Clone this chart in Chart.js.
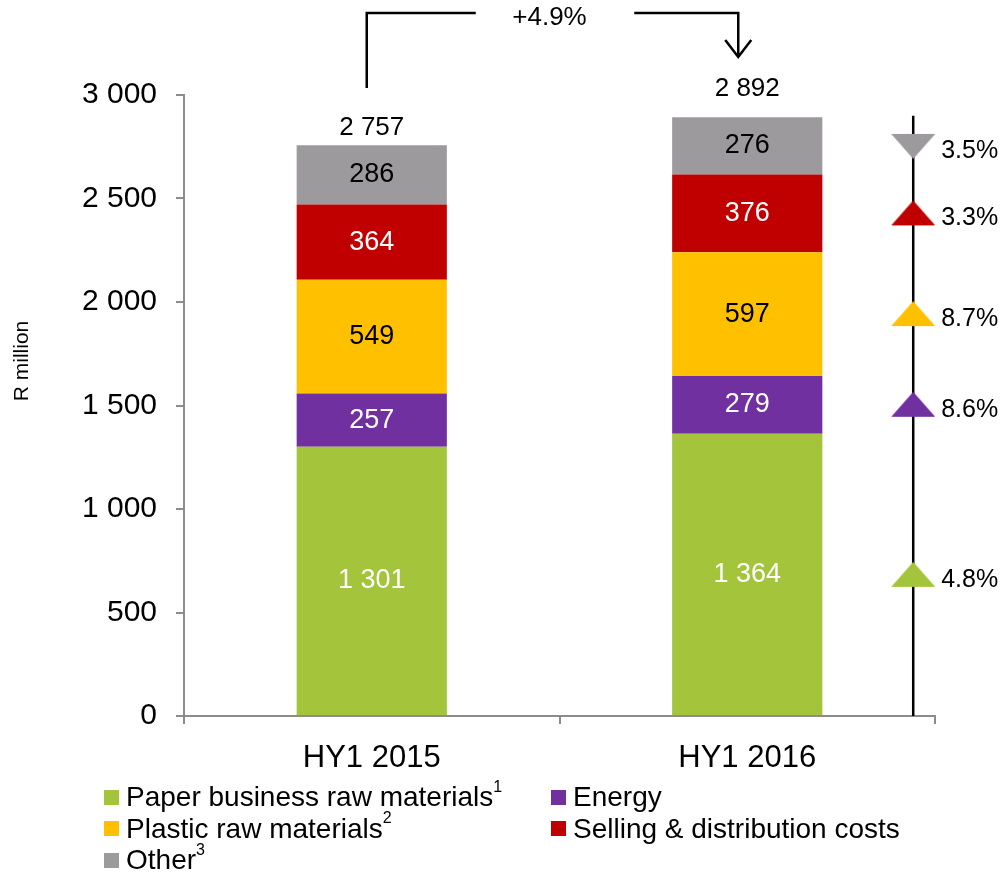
<!DOCTYPE html>
<html>
<head>
<meta charset="utf-8">
<title>Cost breakdown HY1 2015 vs HY1 2016</title>
<script src="https://cdn.jsdelivr.net/npm/chart.js"></script>
<style>
  body { margin: 0; background: #fff; }
  #wrap { position: relative; width: 1002px; height: 872px; }
  #legend { font-family: 'Liberation Sans', Arial, sans-serif; font-size: 28px; color: #000; }
  .item { position: absolute; display: flex; align-items: center; height: 32px; white-space: nowrap; }
  .box { width: 15px; height: 15px; margin-right: 7px; }
  .item sup { font-size: 16px; line-height: 0; position: relative; top: -4px; }
</style>
</head>
<body>
<div id="wrap">
  <canvas id="costChart" width="1002" height="872"></canvas>
  <div id="legend"></div>
</div>
<script>
// values (R million)
var categories = ['HY1 2015', 'HY1 2016'];
var seriesNames = ['Paper business raw materials', 'Energy', 'Plastic raw materials', 'Selling & distribution costs', 'Other'];
var footnotes = ['1', '', '2', '', '3'];
var paperRaw = [1301, 1364];
var energy = [257, 279];
var plasticRaw = [549, 597];
var selling = [364, 376];
var other = [286, 276];
var totals = [2757, 2892];
var changes = ['4.8%', '8.6%', '8.7%', '3.3%', '3.5%'];
var changeUp = [true, true, true, true, false];
var growth = '+4.9%';
var yMax = 3000;
var yStep = 500;

var colors = ['#A3C43B', '#7030A0', '#FFC000', '#C00000', '#9C9A9C'];
var labelInk = ['#fff', '#fff', '#000', '#fff', '#000'];
var font = "'Liberation Sans', Arial, sans-serif";

var series = [paperRaw, energy, plasticRaw, selling, other];

// markers sit in the middle of each HY1 2016 segment
var markerY = [];
var run = 0;
series.forEach(function (s) {
  markerY.push(run + s[1] / 2);
  run += s[1];
});
var markerLane = 0.971;   // position of the change lane across the plot
var laneTop = 2900;

function fmt(n) {
  return String(n).replace(/\B(?=(\d{3})+(?!\d))/g, ' ');
}

function triangle(color, up) {
  var c = document.createElement('canvas');
  c.width = 46;
  c.height = 28;
  var g = c.getContext('2d');
  g.fillStyle = color;
  g.beginPath();
  if (up) {
    g.moveTo(23, 1); g.lineTo(45, 26); g.lineTo(1, 26);
  } else {
    g.moveTo(1, 2); g.lineTo(45, 2); g.lineTo(23, 27);
  }
  g.closePath();
  g.fill();
  return c;
}

var datasets = series.map(function (s, i) {
  return {
    label: seriesNames[i],
    data: s,
    backgroundColor: colors[i],
    stack: 'cost',
    grouped: false,
    barPercentage: 0.4,
    categoryPercentage: 1,
    order: 5
  };
});

datasets.push({
  type: 'line',
  label: 'lane',
  data: [{ x: markerLane, y: 0 }, { x: markerLane, y: laneTop }],
  xAxisID: 'xm',
  yAxisID: 'ym',
  borderColor: '#000',
  borderWidth: 2.5,
  pointRadius: 0,
  order: 2
});

var markerIndex = datasets.length;
datasets.push({
  type: 'scatter',
  label: 'change',
  data: markerY.map(function (y) { return { x: markerLane, y: y }; }),
  xAxisID: 'xm',
  yAxisID: 'ym',
  pointStyle: colors.map(function (c, i) { return triangle(c, changeUp[i]); }),
  pointRadius: 12,
  order: 1
});

var labelPlugin = {
  id: 'slideLabels',
  afterDatasetsDraw: function (chart) {
    var ctx = chart.ctx;
    ctx.save();
    ctx.textAlign = 'center';
    ctx.textBaseline = 'middle';

    // values inside the segments
    ctx.font = '27px ' + font;
    series.forEach(function (s, i) {
      chart.getDatasetMeta(i).data.forEach(function (bar, j) {
        ctx.fillStyle = labelInk[i];
        ctx.fillText(fmt(s[j]), bar.x, (bar.y + bar.base) / 2);
      });
    });

    // totals over the bars
    var topBars = chart.getDatasetMeta(series.length - 1).data;
    var lift = [17, 29];
    ctx.font = '26px ' + font;
    ctx.fillStyle = '#000';
    topBars.forEach(function (bar, j) {
      ctx.fillText(fmt(totals[j]), bar.x, bar.y - lift[j]);
    });

    // % change beside the triangles
    ctx.textAlign = 'left';
    ctx.font = '25px ' + font;
    chart.getDatasetMeta(markerIndex).data.forEach(function (pt, k) {
      ctx.fillText(changes[k], pt.x + 28, pt.y + 5);
    });

    // growth bracket between the two totals
    var b0 = topBars[0], b1 = topBars[1];
    var top = chart.chartArea.top;
    var ly = top - 82;
    ctx.strokeStyle = '#000';
    ctx.lineWidth = 2.5;
    ctx.beginPath();
    ctx.moveTo(b0.x - 5, top - 7);
    ctx.lineTo(b0.x - 5, ly);
    ctx.lineTo(b0.x + 104, ly);
    ctx.moveTo(b1.x - 113, ly);
    ctx.lineTo(b1.x - 9, ly);
    ctx.lineTo(b1.x - 9, top - 38);
    ctx.moveTo(b1.x - 22, top - 55);
    ctx.lineTo(b1.x - 9, top - 38);
    ctx.lineTo(b1.x + 4, top - 55);
    ctx.stroke();
    ctx.textAlign = 'center';
    ctx.font = '26px ' + font;
    ctx.fillText(growth, (b0.x + b1.x) / 2 - 10, ly + 5);

    // y axis title
    ctx.translate(22, 361);
    ctx.rotate(-Math.PI / 2);
    ctx.font = '21px ' + font;
    ctx.fillText('R million', 0, 0);
    ctx.restore();
  }
};

var ctx = document.getElementById('costChart');
var chart = new Chart(ctx, {
  type: 'bar',
  data: { labels: categories, datasets: datasets },
  options: {
    responsive: false,
    animation: false,
    layout: { padding: { top: 95, right: 67, bottom: 96, left: 0 } },
    plugins: {
      legend: { display: false },
      tooltip: { enabled: false }
    },
    scales: {
      x: {
        stacked: true,
        ticks: { color: '#000', padding: 16, font: { family: font, size: 31 } },
        grid: { drawOnChartArea: false, offset: true, tickLength: 8, color: '#8c8c8c', lineWidth: 2 },
        border: { color: '#8c8c8c', width: 2 },
        afterFit: function (s) { s.height = 60; }
      },
      y: {
        stacked: true,
        min: 0,
        max: yMax,
        ticks: {
          stepSize: yStep,
          padding: 19,
          color: '#000',
          font: { family: font, size: 30 },
          callback: function (v) { return fmt(v); }
        },
        grid: { drawOnChartArea: false, tickLength: 8, color: '#8c8c8c', lineWidth: 2 },
        border: { color: '#8c8c8c', width: 2 },
        afterFit: function (s) { s.width = 184; }
      },
      xm: { type: 'linear', min: 0, max: 1, offset: false, display: false },
      ym: { type: 'linear', min: 0, max: yMax, offset: false, display: false }
    }
  },
  plugins: [labelPlugin]
});

// legend, two columns like the slide
var legend = document.getElementById('legend');
seriesNames.forEach(function (name, i) {
  var item = document.createElement('div');
  item.className = 'item';
  item.style.left = (i % 2 === 0 ? 104 : 551) + 'px';
  item.style.top = (781 + Math.floor(i / 2) * 31.5) + 'px';
  var box = document.createElement('span');
  box.className = 'box';
  box.style.background = colors[i];
  var txt = document.createElement('span');
  txt.textContent = name;
  if (footnotes[i]) {
    var sup = document.createElement('sup');
    sup.textContent = footnotes[i];
    txt.appendChild(sup);
  }
  item.appendChild(box);
  item.appendChild(txt);
  legend.appendChild(item);
});
</script>
</body>
</html>
